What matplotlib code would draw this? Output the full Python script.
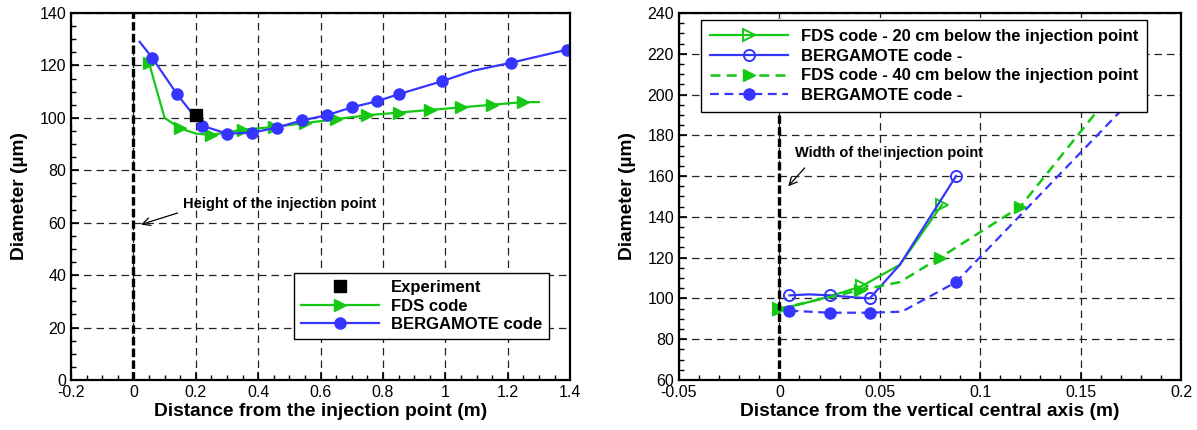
import matplotlib
matplotlib.use('Agg')
import matplotlib.pyplot as plt
from matplotlib.ticker import MultipleLocator

plt.rcParams['font.family'] = ['Liberation Sans', 'DejaVu Sans']

# ---- left panel: along the injection height ----
exp_x = [0.20]
exp_y = [101]

fds_x = [0.05, 0.10, 0.15, 0.20, 0.25, 0.35, 0.45, 0.55, 0.65, 0.75, 0.85, 0.95, 1.05, 1.15, 1.25, 1.30]
fds_y = [121, 100, 96, 94, 93.5, 95.5, 96.5, 98, 99.5, 101, 102, 103, 104, 105, 106, 106]
fds_marks = [0, 2, 4, 5, 6, 7, 8, 9, 10, 11, 12, 13, 14]

berg_x = [0.02, 0.06, 0.14, 0.22, 0.30, 0.38, 0.46, 0.54, 0.62, 0.70, 0.78, 0.85, 0.99, 1.09, 1.21, 1.39]
berg_y = [129, 123, 109, 97, 94, 94.3, 96.3, 99, 101, 104, 106.3, 109, 114, 118, 121, 126]
berg_marks = [1, 2, 3, 4, 5, 6, 7, 8, 9, 10, 11, 12, 14, 15]

# ---- right panel: across the spray ----
fds20_x = [0.0, 0.01, 0.025, 0.041, 0.06, 0.081]
fds20_y = [95, 97, 101, 106, 116.5, 146]
fds20_marks = [0, 3, 5]

berg20_x = [0.005, 0.015, 0.025, 0.045, 0.06, 0.088]
berg20_y = [101.5, 102, 101.5, 100, 116.5, 160]
berg20_marks = [0, 2, 3, 5]

fds40_x = [0.0, 0.04, 0.06, 0.08, 0.12, 0.16]
fds40_y = [95, 104, 108, 120, 145, 194]
fds40_marks = [0, 1, 3, 4]

berg40_x = [0.005, 0.025, 0.045, 0.061, 0.088, 0.17]
berg40_y = [94, 93, 93, 93.5, 108, 192]
berg40_marks = [0, 1, 2, 4]

green = '#14c814'
blue = '#3535ff'
dash = (0, (4, 2.5))

fig = plt.figure(figsize=(11.97, 4.30), dpi=100)
ax1 = fig.add_axes([0.0593, 0.1163, 0.417, 0.8535])
ax2 = fig.add_axes([0.5672, 0.1163, 0.4194, 0.8535])


def style_axes(ax):
    ax.grid(True, which='major', color='#222222', linestyle=(0, (6, 4)), linewidth=0.9)
    ax.set_axisbelow(True)
    ax.tick_params(which='both', direction='in', top=False, right=False, labelsize=11.5)
    ax.tick_params(which='major', length=6, width=1.2)
    ax.tick_params(which='minor', length=3.5, width=1)
    for s in ax.spines.values():
        s.set_linewidth(1.6)


# left
ax1.axvline(0, color='black', lw=2.4, linestyle=(0, (2.5, 1)), zorder=3)
ax1.plot(exp_x, exp_y, 's', color='black', ms=8, label='Experiment', zorder=4)
ax1.plot(fds_x, fds_y, '-', color=green, lw=1.6, marker='>', ms=8,
         markevery=fds_marks, label='FDS code')
ax1.plot(berg_x, berg_y, '-', color=blue, lw=1.6, marker='o', ms=8,
         markevery=berg_marks, label='BERGAMOTE code')
ax1.set_xlim(-0.2, 1.4)
ax1.set_ylim(0, 140)
ax1.xaxis.set_major_locator(MultipleLocator(0.2))
ax1.xaxis.set_minor_locator(MultipleLocator(0.05))
ax1.yaxis.set_major_locator(MultipleLocator(20))
ax1.yaxis.set_minor_locator(MultipleLocator(5))
ax1.set_xticks([-0.2, 0, 0.2, 0.4, 0.6, 0.8, 1.0, 1.2, 1.4])
ax1.set_xticklabels(['-0.2', '0', '0.2', '0.4', '0.6', '0.8', '1', '1.2', '1.4'])
style_axes(ax1)
ax1.set_xlabel('Distance from the injection point (m)', fontsize=13.8, fontweight='bold', labelpad=2)
ax1.set_ylabel('Diameter (µm)', fontsize=13.8, fontweight='bold', labelpad=8)
ax1.annotate('', xy=(0.016, 59), xytext=(0.15, 64),
             arrowprops=dict(arrowstyle='->', color='black', lw=0.9, mutation_scale=14))
ax1.text(0.16, 67, 'Height of the injection point', fontsize=10.5, fontweight='bold', va='center')
leg1 = ax1.legend(loc='upper left', bbox_to_anchor=(0.4465, 0.291),
                  prop={'weight': 'bold', 'size': 12}, frameon=True, fancybox=False,
                  edgecolor='black', framealpha=1, handlelength=4.7, handletextpad=0.75,
                  labelspacing=0.22, borderpad=0.4, borderaxespad=0, numpoints=1)
leg1.get_frame().set_linewidth(1.0)

# right
ax2.axvline(0, ymax=0.985, color='black', lw=2.4, linestyle=(0, (2.5, 1)), zorder=3)
ax2.plot(fds20_x, fds20_y, '-', color=green, lw=1.6, marker='>', ms=9, mfc='none', mew=1.4,
         markevery=fds20_marks, label='FDS code - 20 cm below the injection point')
ax2.plot(berg20_x, berg20_y, '-', color=blue, lw=1.6, marker='o', ms=8, mfc='none', mew=1.4,
         markevery=berg20_marks, label='BERGAMOTE code -')
ax2.plot(fds40_x, fds40_y, linestyle=dash, color=green, lw=1.8, marker='>', ms=9,
         markevery=fds40_marks, label='FDS code - 40 cm below the injection point')
ax2.plot(berg40_x, berg40_y, linestyle=dash, color=blue, lw=1.6, marker='o', ms=8,
         markevery=berg40_marks, label='BERGAMOTE code -')
ax2.set_xlim(-0.05, 0.2)
ax2.set_ylim(60, 240)
ax2.xaxis.set_major_locator(MultipleLocator(0.05))
ax2.xaxis.set_minor_locator(MultipleLocator(0.01))
ax2.yaxis.set_major_locator(MultipleLocator(20))
ax2.yaxis.set_minor_locator(MultipleLocator(5))
ax2.set_xticks([-0.05, 0, 0.05, 0.1, 0.15, 0.2])
ax2.set_xticklabels(['-0.05', '0', '0.05', '0.1', '0.15', '0.2'])
style_axes(ax2)
ax2.set_xlabel('Distance from the vertical central axis (m)', fontsize=13.8, fontweight='bold', labelpad=2)
ax2.set_ylabel('Diameter (µm)', fontsize=13.8, fontweight='bold', labelpad=8)
ax2.annotate('', xy=(0.0035, 154), xytext=(0.0135, 165),
             arrowprops=dict(arrowstyle='->', color='black', lw=0.9, mutation_scale=14))
ax2.text(0.0078, 171.5, 'Width of the injection point', fontsize=10.5, fontweight='bold', va='center')
leg2 = ax2.legend(loc='upper left', bbox_to_anchor=(0.0438, 0.981),
                  prop={'weight': 'bold', 'size': 12}, frameon=True, fancybox=False,
                  edgecolor='black', framealpha=1, handlelength=4.7, handletextpad=0.75,
                  labelspacing=0.28, borderpad=0.55, borderaxespad=0, numpoints=1)
leg2.get_frame().set_linewidth(1.0)

plt.savefig('out.png', dpi=100)
